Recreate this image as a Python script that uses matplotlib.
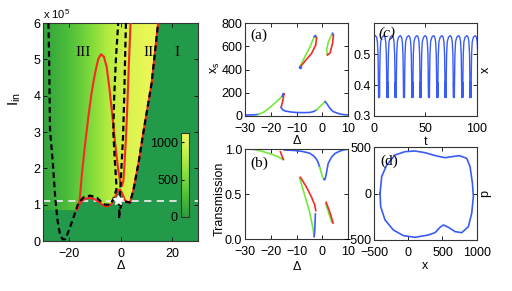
import numpy as np
import matplotlib.pyplot as plt
from matplotlib.colors import LinearSegmentedColormap

plt.rcParams['font.family'] = ['Liberation Sans', 'DejaVu Sans']
plt.rcParams['mathtext.fontset'] = 'custom'
plt.rcParams['mathtext.rm'] = 'Liberation Sans'
plt.rcParams['mathtext.it'] = 'Liberation Sans:italic'
plt.rcParams['mathtext.default'] = 'regular'
plt.rcParams['font.size'] = 9

# ---------------- left panel: (Delta, I_in) map, I_in in units of 1e5
map_delta = [-30, -25, -20, -15, -10, -5, 0, 5, 10, 15, 20, 25, 30]
map_value = [60, 160, 280, 420, 580, 760, 900, 1000, 1060, 1100, 1110, 1110, 1110]

# right edge of the multistable region (red + dashed on top of each other)
edge_d = [5.0, 7.0, 8.9, 12.1, 14.6]
edge_i = [1.4, 2.15, 3.0, 4.35, 6.0]

# lower red curve
redA_d = [-17.0, -16.0, -15.0, -13.5, -12.0, -10.0, -8.0, -6.5, -5.0, -3.5,
          -2.2, -1.0, -0.2, 0.7, 1.7, 2.7, 3.7] + edge_d
redA_i = [0.85, 1.0, 1.1, 1.17, 1.19, 1.15, 1.05, 0.97, 0.95, 1.02,
          1.2, 1.38, 1.42, 1.3, 1.13, 1.05, 1.06] + edge_i

# red hump and U
redB_d = [-16.0, -15.6, -15.0, -13.8, -12.5, -11.2, -9.9, -8.7, -7.6, -6.5,
          -5.4, -4.4, -3.4, -2.1, -0.9, 0.0, 0.6, 1.1, 1.5, 2.0, 2.5, 3.2, 3.9]
redB_i = [1.05, 1.35, 1.86, 2.65, 3.42, 4.1, 4.62, 5.0, 5.14, 5.08,
          4.8, 4.25, 3.6, 2.7, 1.96, 1.6, 1.52, 1.65, 2.05, 2.7, 3.45, 4.8, 6.0]

# dashed tongue 1 (cusp near -21.5)
tong1_d = [-28.0, -27.7, -27.4, -26.3, -25.4, -24.5, -23.5, -22.5, -21.5, -20.9,
           -19.0, -17.7, -16.4, -14.4, -11.8, -9.2, -7.2, -6.0, -4.1, -2.8,
           -1.6, -1.6, -2.2, -2.8, -2.5, -1.8, -0.9]
tong1_i = [6.0, 4.8, 3.06, 2.15, 1.22, 0.58, 0.17, 0.05, 0.05, 0.14,
           0.5, 0.77, 1.04, 1.2, 1.25, 1.19, 1.06, 1.0, 1.0, 1.15,
           1.42, 1.55, 2.2, 3.0, 3.9, 5.0, 6.0]

# dashed tongue 2 (cusp near -0.6)
tong2_d = [2.1, 1.7, 1.4, 1.0, 0.5, 0.1, -0.3, -0.6, -0.3, 0.4, 1.4, 2.4, 3.7] + edge_d
tong2_i = [6.0, 4.8, 3.88, 2.9, 2.23, 1.65, 1.2, 0.62, 0.85, 1.02, 1.08, 1.08, 1.06] + edge_i

i_line = 1.1
star_d, star_i = -0.8, 1.13

# ---------------- (a) x_s vs Delta
a_b1 = ([-30, -28, -26, -24.8], [8, 9, 11, 14])
a_g1 = ([-24.8, -23, -21.6, -20, -18.4, -16.8, -15.6], [14, 30, 52, 80, 112, 145, 170])
a_b2 = ([-15.6, -15.2, -14.9], [170, 195, 190])
a_r1 = ([-14.9, -15.2, -15.6, -16.0], [190, 150, 110, 75])
a_b3 = ([-16.0, -15.5, -14.5, -12, -10, -7, -4.8, -3.5, -2.3], [75, 55, 43, 34, 30, 29, 31, 38, 52])
a_g2 = ([-2.3, -1.5, -0.5, 0.5, 1.0], [52, 70, 92, 112, 124])
a_b4 = ([1.0, 1.6, 2.9, 4.2, 6.8, 8.5, 10], [124, 109, 66, 37, 17, 11, 9])
a_g3 = ([-8.7, -6.8, -4.8, -3.2], [426, 512, 598, 685])
a_b5 = ([-3.2, -2.7, -2.3], [685, 695, 675])
a_r3 = ([-2.3, -2.6, -4.2, -6.4, -8.5], [675, 613, 541, 483, 426])
a_g4 = ([1.9, 1.6, 2.3, 3.5, 3.9], [527, 570, 642, 699, 713])
a_b6 = ([3.9, 4.2], [713, 699])
a_r4 = ([4.2, 3.9, 2.9, 1.9], [699, 627, 541, 527])

# ---------------- (b) transmission vs Delta
b_b1 = ([-30, -28, -26.5], [1.0, 1.0, 0.997])
b_g1 = ([-26.5, -24, -21, -18, -15.3], [0.997, 0.98, 0.955, 0.925, 0.885])
b_r1 = ([-16.3, -15.9, -15.5, -15.1], [0.97, 0.94, 0.91, 0.885])
b_b2 = ([-14.8, -11, -8, -5, -3.7, -2.6, -1.8, -1.1], [0.99, 0.985, 0.975, 0.955, 0.93, 0.9, 0.86, 0.80])
b_g2 = ([-1.1, -0.4, 0.2, 0.6], [0.80, 0.73, 0.68, 0.665])
b_b3 = ([0.6, 0.9, 1.3, 2.2, 3.5, 4.8, 6.5, 8, 10], [0.665, 0.66, 0.7, 0.84, 0.91, 0.95, 0.975, 0.99, 1.0])
b_g3 = ([-8.9, -6.9, -5.0, -3.7, -3.2], [0.686, 0.49, 0.306, 0.12, 0.03])
b_r3 = ([-8.5, -6.3, -4.3, -3.0, -2.6], [0.686, 0.583, 0.472, 0.38, 0.317])
b_b4 = ([-3.2, -3.0, -2.85, -2.75], [0.03, 0.1, 0.2, 0.28])
b_g4 = ([1.3, 2.0, 2.8, 3.6], [0.39, 0.33, 0.26, 0.19])
b_r4 = ([1.4, 2.2, 3.2, 4.1], [0.41, 0.35, 0.27, 0.18])

# ---------------- (c) one period of x(t), repeated
wave_t = [0.0, 1.2, 2.0, 2.6, 2.9, 3.1, 3.2, 3.3, 3.4, 3.5, 3.6, 3.7, 3.8, 3.9,
          4.0, 4.1, 4.3, 4.6, 5.2, 6.4]
wave_x = [0.56, 0.555, 0.54, 0.50, 0.44, 0.40, 0.36, 0.41, 0.36, 0.41, 0.36, 0.41,
          0.36, 0.41, 0.36, 0.40, 0.44, 0.50, 0.54, 0.555]
period = 8.1
first_top = 1.3

# ---------------- (d) limit cycle in (x, p)
loop_x = [-412, -388, -315, -193, -47, 99, 245, 416, 537, 635, 747, 854, 903, 937,
          951, 927, 878, 781, 684, 586, 513, 464, 391, 294, 99, -71, -218, -339, -403]
loop_p = [2, 183, 309, 417, 453, 460, 442, 406, 388, 399, 410, 381, 291, 112,
          -32, -212, -356, -421, -410, -363, -338, -363, -421, -446, -471, -453, -392, -284, -140]

BLUE = '#3a5cf5'
GREEN = '#74e83a'
RED = '#f52a22'
BG = '#23994a'
serif = ['Liberation Serif', 'DejaVu Serif']


def style(ax):
    ax.tick_params(direction='in', top=True, right=True, length=3, width=0.6, labelsize=9, pad=2)
    ax.tick_params(axis='x', pad=5)
    for s in ax.spines.values():
        s.set_linewidth(0.8)
        s.set_color('#333333')


fig = plt.figure(figsize=(5.12, 2.91), dpi=100)

# ---- main map
ax = fig.add_axes([0.0846, 0.1718, 0.3016, 0.749])
cmap = LinearSegmentedColormap.from_list('gy', ['#2b9b40', '#4fbf3a', '#86dd3a', '#c4f043', '#f4f85c'])
step = map_delta[1] - map_delta[0]
im = ax.imshow(np.vstack([map_value, map_value]), cmap=cmap, vmin=0, vmax=1130,
               aspect='auto', origin='lower', interpolation='bilinear',
               extent=[map_delta[0] - step / 2, map_delta[-1] + step / 2, 0, 6])
poly_d = [-31] + redA_d + [31, 31, -31]
poly_i = [redA_i[0]] + redA_i + [6.2, -0.2, -0.2]
ax.fill(poly_d, poly_i, color=BG, lw=0, zorder=1)
ax.axhline(i_line, color='#e8e8e8', lw=1.3, dashes=(4, 3), zorder=2)
ax.plot(redA_d, redA_i, color=RED, lw=1.5, zorder=3)
ax.plot(redB_d, redB_i, color=RED, lw=1.5, zorder=3)
ax.plot(tong1_d, tong1_i, color='k', lw=1.6, dashes=(2.6, 1.6), zorder=4)
ax.plot(tong2_d, tong2_i, color='k', lw=1.6, dashes=(2.6, 1.6), zorder=4)
ax.plot(star_d, star_i, marker='*', color='white', ms=7, mec='white', zorder=5)
for txt, xx in [('III', -14.5), ('II', 10.8), ('I', 22)]:
    ax.text(xx, 5.2, txt, family=serif, fontsize=11, ha='center', va='center')
ax.set_xlim(-30, 30)
ax.set_ylim(0, 6)
ax.set_xticks([-20, 0, 20])
ax.set_yticks(range(7))
style(ax)
ax.set_xlabel('Δ', labelpad=0)
ax.set_ylabel('I$_{in}$', fontsize=11)
ax.yaxis.set_label_coords(-0.13, 0.65)
ax.text(0.0, 1.01, 'x 10$^{5}$', transform=ax.transAxes, ha='left', va='bottom', fontsize=8)

cax = fig.add_axes([0.353, 0.2553, 0.0162, 0.2887])
cb = fig.colorbar(im, cax=cax, ticks=[0, 500, 1000])
cax.yaxis.set_ticks_position('left')
cax.tick_params(direction='in', length=2, labelsize=9, pad=2)
cb.outline.set_linewidth(0.8)
cb.outline.set_edgecolor('#333333')

# ---- (a)
axa = fig.add_axes([0.4785, 0.6014, 0.2018, 0.3186])
for seg, c in [(a_b1, BLUE), (a_g1, GREEN), (a_b2, BLUE), (a_r1, RED), (a_b3, BLUE),
               (a_g2, GREEN), (a_b4, BLUE), (a_g3, GREEN), (a_b5, BLUE), (a_r3, RED),
               (a_g4, GREEN), (a_b6, BLUE), (a_r4, RED)]:
    axa.plot(seg[0], seg[1], color=c, lw=1.2)
axa.plot(a_g3[0][0], a_g3[1][0], 'o', color=BLUE, ms=1.5)
axa.set_xlim(-30, 10)
axa.set_ylim(0, 800)
axa.set_xticks([-30, -20, -10, 0, 10])
axa.set_yticks([0, 200, 400, 600, 800])
style(axa)
axa.set_xlabel('Δ', labelpad=0)
axa.set_ylabel('x$_{s}$')
axa.yaxis.set_label_coords(-0.22, 0.52)
axa.text(0.05, 0.87, '(a)', transform=axa.transAxes, family=serif, fontsize=11, va='center')

# ---- (b)
axb = fig.add_axes([0.4785, 0.1777, 0.2018, 0.310])
for seg, c in [(b_b1, BLUE), (b_g1, GREEN), (b_r1, RED), (b_b2, BLUE), (b_g2, GREEN),
               (b_b3, BLUE), (b_g3, GREEN), (b_r3, RED), (b_b4, BLUE), (b_g4, GREEN),
               (b_r4, RED)]:
    axb.plot(seg[0], seg[1], color=c, lw=1.2)
axb.set_xlim(-30, 10)
axb.set_ylim(0, 1)
axb.set_xticks([-30, -20, -10, 0, 10])
axb.set_yticks([0, 0.5, 1])
style(axb)
axb.set_xlabel('Δ', labelpad=2)
axb.set_ylabel('Transmission')
axb.yaxis.set_label_coords(-0.19, 0.45)
axb.text(0.05, 0.845, '(b)', transform=axb.transAxes, family=serif, fontsize=11, va='center')

# ---- (c)
axc = fig.add_axes([0.7305, 0.6014, 0.2006, 0.3186])
t_all = np.concatenate([first_top + k * period + np.array(wave_t) for k in range(-1, 13)])
x_all = np.tile(wave_x, 14)
axc.plot(t_all, x_all, color=BLUE, lw=1.0)
axc.set_xlim(0, 100)
axc.set_ylim(0.3, 0.6)
axc.set_xticks([0, 50, 100])
axc.set_yticks([0.3, 0.4, 0.5])
style(axc)
axc.set_xlabel('t', labelpad=1)
axc.yaxis.set_label_position('right')
axc.set_ylabel('x', labelpad=2)
axc.text(0.04, 0.895, '(c)', transform=axc.transAxes, family=serif, style='italic',
         fontsize=11, va='center')

# ---- (d)
axd = fig.add_axes([0.7305, 0.1753, 0.2006, 0.3185])
axd.plot(loop_x + loop_x[:1], loop_p + loop_p[:1], color=BLUE, lw=1.2)
axd.set_xlim(-500, 1000)
axd.set_ylim(-500, 500)
axd.set_xticks([-500, 0, 500, 1000])
axd.set_yticks([-500, 0, 500])
style(axd)
axd.set_xlabel('x', labelpad=1)
axd.yaxis.set_label_position('right')
axd.set_ylabel('p', labelpad=2)
axd.text(0.06, 0.845, '(d)', transform=axd.transAxes, family=serif, fontsize=11, va='center')

fig.savefig('out.png', dpi=100)
